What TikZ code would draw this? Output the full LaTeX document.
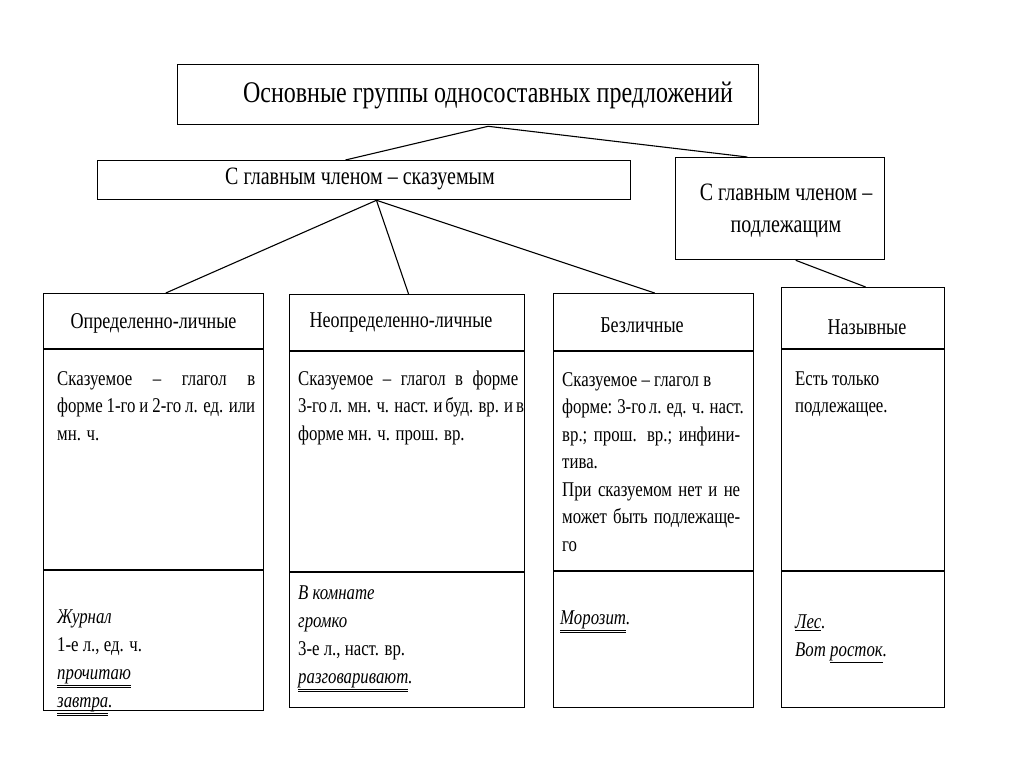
\documentclass[tikz,border=0pt]{standalone}
\usepackage{fontspec}
\setmainfont{Liberation Serif}[FakeStretch=0.8]
\usetikzlibrary{calc}
\newcommand\myfs[2]{\fontsize{#1}{#2}\selectfont}
\newcommand\jl[2]{\makebox[#1pt][s]{#2}}
\newcommand\su[1]{\leavevmode\vtop{\hbox{#1}\kern0.5pt\hrule height 0.8pt}}
\newcommand\du[1]{\leavevmode\vtop{\hbox{#1}\kern0.5pt\hrule height 0.7pt\kern1.3pt\hrule height 0.7pt}}
\begin{document}
\begin{tikzpicture}[x=1pt,y=-1pt,
  box/.style={draw, line width=1.3pt, inner sep=0, anchor=north west},
  rule/.style={line width=1.3pt},
  conn/.style={line width=1.1pt},
  ttl/.style={inner sep=0, font=\myfs{30}{34}},
  grp/.style={inner sep=0, align=center, font=\myfs{25}{32}},
  hdr/.style={inner sep=0, font=\myfs{22.6}{26}},
  body/.style={inner sep=0, anchor=north west, align=left, font=\myfs{21}{27.5}},
  ex/.style={inner sep=0, anchor=north west, align=left, font=\myfs{21}{28}}]
\useasboundingbox[fill=white] (0,0) rectangle (1024,767);

% boxes
\node[box, minimum width=581, minimum height=60] (top) at (177,64) {};
\node[box, minimum width=533, minimum height=39] (pred) at (97,160) {};
\node[box, minimum width=209, minimum height=102] (subj) at (675,157) {};
\node[box, minimum width=220, minimum height=417] (b1) at (43,293) {};
\node[box, minimum width=235, minimum height=413] (b2) at (289,294) {};
\node[box, minimum width=200, minimum height=414] (b3) at (553,293) {};
\node[box, minimum width=163, minimum height=420] (b4) at (781,287) {};

% inner rules
\draw[rule] (b1.west |- 0,349) -- (b1.east |- 0,349);
\draw[rule] (b1.west |- 0,570) -- (b1.east |- 0,570);
\draw[rule] (b2.west |- 0,351) -- (b2.east |- 0,351);
\draw[rule] (b2.west |- 0,572) -- (b2.east |- 0,572);
\draw[rule] (b3.west |- 0,351) -- (b3.east |- 0,351);
\draw[rule] (b3.west |- 0,571) -- (b3.east |- 0,571);
\draw[rule] (b4.west |- 0,349) -- (b4.east |- 0,349);
\draw[rule] (b4.west |- 0,571) -- (b4.east |- 0,571);

% connectors
\coordinate (pk) at ($(top.south)+(20,1)$);
\coordinate (pj) at ($(pred.south west)!0.523!(pred.south east)$);
\coordinate (sj) at ($(subj.south west)!0.574!(subj.south east)$);
\draw[conn] ($(pred.north west)!0.465!(pred.north east)$) -- (pk) -- ($(subj.north west)!0.344!(subj.north east)$);
\draw[conn] (pj) -- ($(b1.north west)!0.555!(b1.north east)$);
\draw[conn] (pj) -- ($(b2.north west)!0.506!(b2.north east)$);
\draw[conn] (pj) -- ($(b3.north west)!0.505!(b3.north east)$);
\draw[conn] (sj) -- ($(b4.north west)!0.515!(b4.north east)$);

% texts
\node[ttl] (ttlt) at (488,95) {Основные группы односоставных предложений};
\node[grp] (predt) at (360,179) {С главным членом – сказуемым};
\node[grp] (subjt) at (786,211) {С главным членом –\\подлежащим};

\node[hdr] (h1) at (153.5,323) {Определенно-личные};
\node[hdr] (h2) at (401,323) {Неопределенно-личные};
\node[hdr] (h3) at (642,325) {Безличные};
\node[hdr] (h4) at (867,327) {Назывные};

\node[body] (t1) at (57,366) {\strut\jl{198}{Сказуемое – глагол в}\\\jl{198}{форме 1-го и 2-го л. ед. или}\\мн. ч.};
\node[body] (t2) at (298,366) {\strut\jl{220}{Сказуемое – глагол в форме}\\\jl{220}{3-го л. мн. ч. наст. и буд. вр. и в}\\форме мн. ч. прош. вр.};
\node[body] (t3) at (562,367) {\strut Сказуемое – глагол в\\\jl{178}{форме: 3-го л. ед. ч. наст.}\\\jl{178}{вр.; прош. вр.; инфини-}\\тива.\\\jl{178}{При сказуемом нет и не}\\\jl{178}{может быть подлежаще-}\\го};
\node[body] (t4) at (795,366) {\strut Есть только\\подлежащее.};

\node[ex] (e1) at (57,604) {\strut\textit{Журнал}\\1-е л., ед. ч.\\\textit{\du{прочитаю}}\\\textit{\du{завтра}.}};
\node[ex] (e2) at (298,580) {\strut\textit{В комнате}\\\textit{громко}\\3-е л., наст. вр.\\\textit{\du{разговаривают}.}};
\node[ex] (e3) at (560,605) {\strut\textit{\du{Морозит}.}};
\node[ex] (e4) at (795,609) {\strut\textit{\su{Лес}.}\\\textit{Вот \su{росток}.}};
\end{tikzpicture}
\end{document}
